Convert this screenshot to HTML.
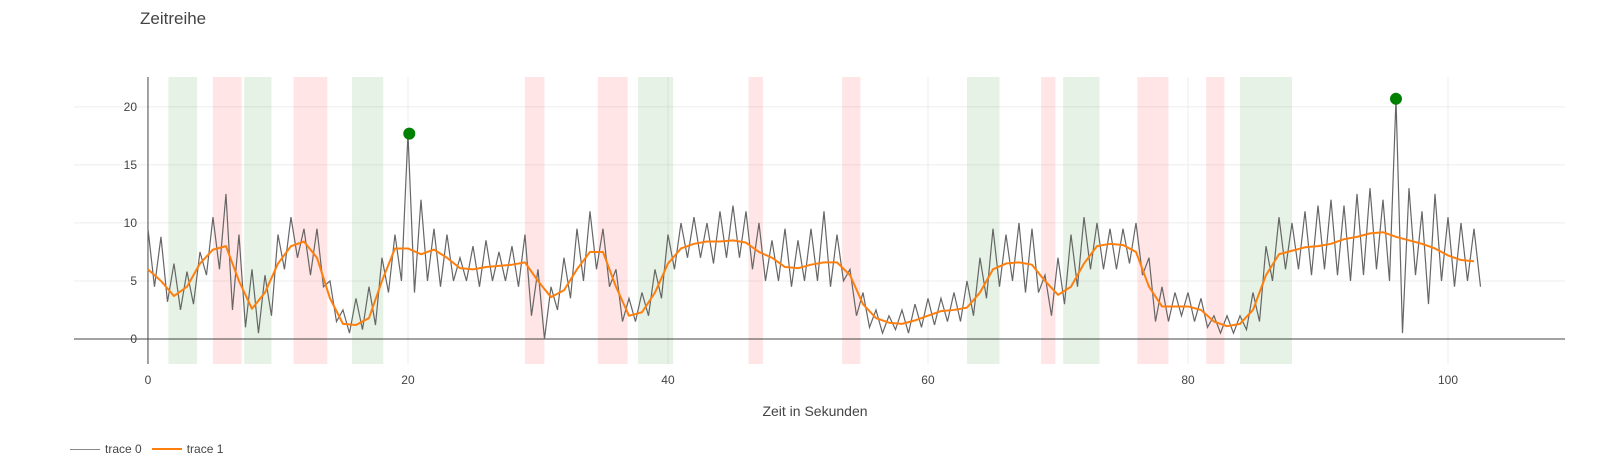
<!DOCTYPE html>
<html><head><meta charset="utf-8"><style>
body{margin:0;background:#fff;}
svg{display:block;font-family:"Liberation Sans",sans-serif;}
</style></head><body>
<svg id="chart" width="1603" height="468"></svg>
<script>
const tStep = 0.5;
const trace0 = [9.5,4.5,8.8,3.2,6.5,2.5,5.8,3.0,7.5,5.5,
10.5,6,12.5,2.5,9,1,6,0.5,5.5,2,
9,6,10.5,7,9.5,5.5,9.5,4.5,5,1.5,
2.5,0.5,3.5,0.8,4.5,1.2,7,4,9,5,
17.7,4,12,5,9.5,4.5,9,5,7,5,
8,4.5,8.5,5,7.5,5,8,4.5,9,2,
6,0,4.5,2.5,7,3.5,9.5,5,11,6,
9.5,4.5,6,1.5,3.5,1.5,4,2,6,3.5,
9,6,10,7,10.5,7,10,6.5,11,7,
11.5,7,11,6,10,5,8.5,5,9.5,4.5,
8.5,5,9.5,5,11,4.5,9,5,6,2,
4,1,2.5,0.5,2,0.8,2.5,0.5,3,1,
3.5,1.2,3.5,1.5,4,1.5,5,2,7,3.5,
9.5,4.5,9,5,10,4,9.5,4,5.5,2,
7,3,9,4.5,10.5,6,10,6,9.5,6,
9.5,6.5,10,5.5,7,1.5,4.5,1.5,4,2,
4,1.5,3.5,1,2,0.5,2,0.5,2,0.8,
4,1.5,8,5,10.5,6,10,6,11,5.5,
11.5,6,12,5.5,11.5,5,12.5,5.5,13,6,
12,5,20.7,0.5,13,5.5,11,3,12.5,5,
10.5,4.5,10,5,9.5,4.5];
const trace1 = [6,5,3.7,4.5,6.5,7.7,8,5,2.6,4,6.5,8,8.4,7,3.5,1.3,1.2,1.8,5,7.8,
7.8,7.3,7.7,7,6.1,6,6.2,6.3,6.4,6.6,5,3.6,4.2,6,7.5,7.5,4.5,2.0,2.3,4,
6.5,7.8,8.2,8.4,8.4,8.5,8.3,7.5,7.0,6.2,6.1,6.4,6.6,6.6,5.5,3.0,1.8,1.4,1.3,1.6,
2.0,2.4,2.5,2.7,4,6,6.5,6.6,6.4,5.0,3.8,4.5,6.5,8,8.2,8.1,7.5,4.5,2.8,2.8,
2.8,2.5,1.5,1.1,1.3,2.5,5.5,7.3,7.6,7.9,8.0,8.2,8.6,8.8,9.1,9.2,8.8,8.5,8.2,7.8,
7.2,6.8,6.7];
const markerX = [20.1, 96.0];
const markerY = [17.7, 20.7];
const greenStart = [1.57,7.4,15.7,37.7,63.0,70.4,84.0];
const greenEnd   = [3.78,9.5,18.1,40.4,65.5,73.2,88.0];
const redStart = [5.0,11.2,29.0,34.6,46.2,53.4,68.7,76.1,81.4];
const redEnd   = [7.2,13.8,30.5,36.9,47.3,54.8,69.8,78.5,82.8];
const xTicks = [0,20,40,60,80,100];
const yTicks = [0,5,10,15,20];

const L=74,R=1565,T=77,B=364;
const xMin=-5.69,xMax=109.0,yMin=-2.16,yMax=22.58;
const xs=v=>L+(v-xMin)/(xMax-xMin)*(R-L);
const ys=v=>B-(v-yMin)/(yMax-yMin)*(B-T);
const svg=document.getElementById('chart');
const NS='http://www.w3.org/2000/svg';
function mk(tag,attrs,parent){const e=document.createElementNS(NS,tag);for(const k in attrs)e.setAttribute(k,attrs[k]);(parent||svg).appendChild(e);return e;}

yTicks.forEach(v=>{if(v===0)return;const g=mk('line',{x1:L,x2:R,y1:ys(v),y2:ys(v),stroke:'#eee','stroke-width':1});

});
xTicks.forEach(v=>{if(v===0)return;const g=mk('line',{x1:xs(v),x2:xs(v),y1:T,y2:B,stroke:'#eee','stroke-width':1});

});
greenStart.forEach((s,i)=>{const r=mk('rect',{x:xs(s),y:T,width:xs(greenEnd[i])-xs(s),height:B-T,fill:'rgba(0,128,0,0.1)'});

});
redStart.forEach((s,i)=>{const r=mk('rect',{x:xs(s),y:T,width:xs(redEnd[i])-xs(s),height:B-T,fill:'rgba(255,0,0,0.1)'});

});
const zx=mk('line',{x1:L,x2:R,y1:ys(0),y2:ys(0),stroke:'#444','stroke-width':1});


const zy=mk('line',{x1:xs(0),x2:xs(0),y1:T,y2:B,stroke:'#444','stroke-width':1});


xTicks.forEach(v=>{const t=mk('text',{x:xs(v),y:384,'text-anchor':'middle','font-size':12,fill:'#444'});t.textContent=v;

});
yTicks.forEach(v=>{const t=mk('text',{x:137,y:ys(v)+4,'text-anchor':'end','font-size':12,fill:'#444'});t.textContent=v;

});
const p0=mk('polyline',{points:trace0.map((v,i)=>xs(i*tStep)+','+ys(v)).join(' '),fill:'none',stroke:'#666','stroke-width':1.2});


const p1=mk('polyline',{points:trace1.map((v,i)=>xs(i)+','+ys(v)).join(' '),fill:'none',stroke:'#ff7f0e','stroke-width':2,'stroke-linejoin':'round'});


markerX.forEach((x,i)=>{const c=mk('circle',{cx:xs(x),cy:ys(markerY[i]),r:6,fill:'green'});

});
</script>
<div style="position:absolute;left:140px;top:9px;font-size:17px;color:#444;font-family:'Liberation Sans',sans-serif">Zeitreihe</div>
<div style="position:absolute;left:0;width:1630px;text-align:center;top:403px;font-size:14px;color:#444;font-family:'Liberation Sans',sans-serif">Zeit in Sekunden</div>
<div style="position:absolute;left:70px;top:442px;font-size:12px;color:#444;font-family:'Liberation Sans',sans-serif;display:flex;align-items:center">
<span style="display:flex;align-items:center"><span style="display:inline-block;width:30px;height:0;border-top:1.5px solid #888;margin-right:5px"></span>trace 0</span>
<span style="display:flex;align-items:center;margin-left:10px"><span style="display:inline-block;width:30px;height:0;border-top:2px solid #ff7f0e;margin-right:5px"></span>trace 1</span>
</div>
</body></html>
